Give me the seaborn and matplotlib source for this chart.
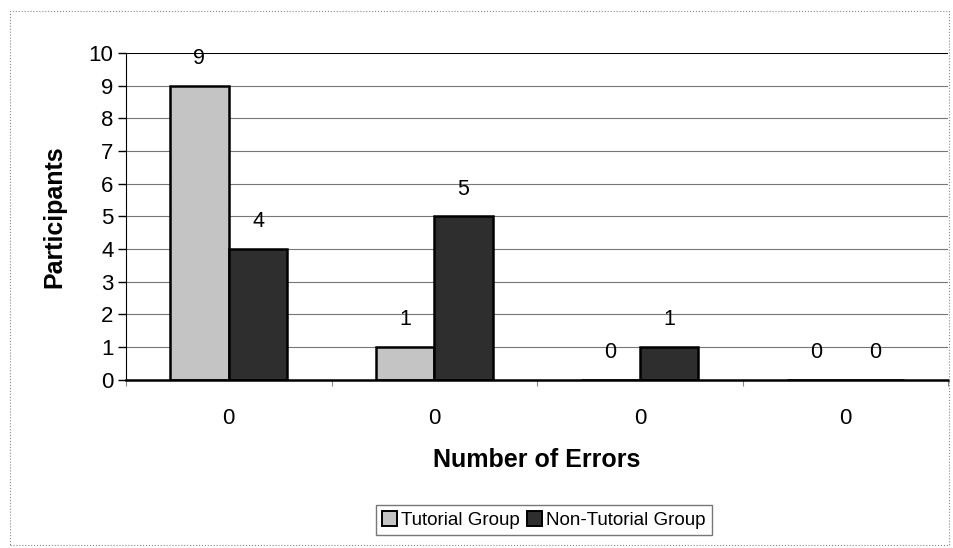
import matplotlib
matplotlib.use("Agg")
import matplotlib.pyplot as plt
import numpy as np
import pandas as pd
import seaborn as sns
from matplotlib.patches import Rectangle

groups = ["g1", "g2", "g3", "g4"]
tick_labels = ["0", "0", "0", "0"]
series = ["Tutorial Group", "Non-Tutorial Group"]
tutorial = [9, 1, 0, 0]
non_tutorial = [4, 5, 1, 0]
y_ticks = list(range(0, 11))

df = pd.DataFrame({
    "group": groups * 2,
    "participants": tutorial + non_tutorial,
    "series": [series[0]] * len(groups) + [series[1]] * len(groups),
})

sns.set_style("white")
plt.rcParams["font.family"] = ["Liberation Sans", "DejaVu Sans"]
plt.rcParams["text.color"] = "black"
plt.rcParams["axes.labelcolor"] = "black"
plt.rcParams["xtick.color"] = "black"
plt.rcParams["ytick.color"] = "black"

fig = plt.figure(figsize=(9.54, 5.48), dpi=100)
ax = fig.add_axes([0.132, 0.307, 0.862, 0.596])

colors = ["#c4c4c4", "#2e2e2e"]
sns.barplot(
    data=df, x="group", y="participants", hue="series",
    order=groups, hue_order=series,
    palette=colors,
    width=0.57, edgecolor="black", linewidth=1.8,
    saturation=1, ax=ax, legend=False,
)

for cont in ax.containers:
    ax.bar_label(cont, fmt="%d", padding=12, fontsize=15.5)

ax.set_ylim(0, 10)
ax.set_xlim(-0.5, len(groups) - 0.5)
ax.set_yticks(y_ticks)
ax.tick_params(axis="y", labelsize=16, length=6, width=1, direction="out", left=True, pad=3)
ax.set_xticks(range(len(groups)))
ax.set_xticklabels(tick_labels, fontsize=16)
ax.tick_params(axis="x", which="major", length=0, pad=20)
ax.set_xticks(np.arange(-0.5, len(groups)), minor=True)
ax.tick_params(axis="x", which="minor", length=4, width=0.8, bottom=True, color="#888888")

ax.yaxis.grid(True, color="#777777", linewidth=0.8)
ax.set_axisbelow(True)
for side in ["top", "right"]:
    ax.spines[side].set_visible(False)
ax.spines["left"].set_color("black")
ax.spines["bottom"].set_color("black")
ax.spines["bottom"].set_linewidth(1.8)
ax.axhline(10, color="black", linewidth=1.4)

ax.set_ylabel("Participants", fontsize=18, fontweight="bold", labelpad=16)
ax.set_xlabel("Number of Errors", fontsize=18, fontweight="bold", labelpad=14)

handles = [Rectangle((0, 0), 1, 1, facecolor=c, edgecolor="black", linewidth=1.4)
           for c in colors]
fig.legend(handles, series, loc="center", bbox_to_anchor=(0.57, 0.051), ncol=2,
           fontsize=13.5, frameon=True, fancybox=False, edgecolor="#555555",
           handlelength=0.8, handleheight=0.8, handletextpad=0.2, columnspacing=0.4,
           borderpad=0.35)

fig.patches.append(Rectangle((0.01, 0.005), 0.985, 0.975, transform=fig.transFigure,
                             fill=False, edgecolor="#888888", linewidth=0.8, linestyle=":"))

fig.savefig("out.png", dpi=100)
